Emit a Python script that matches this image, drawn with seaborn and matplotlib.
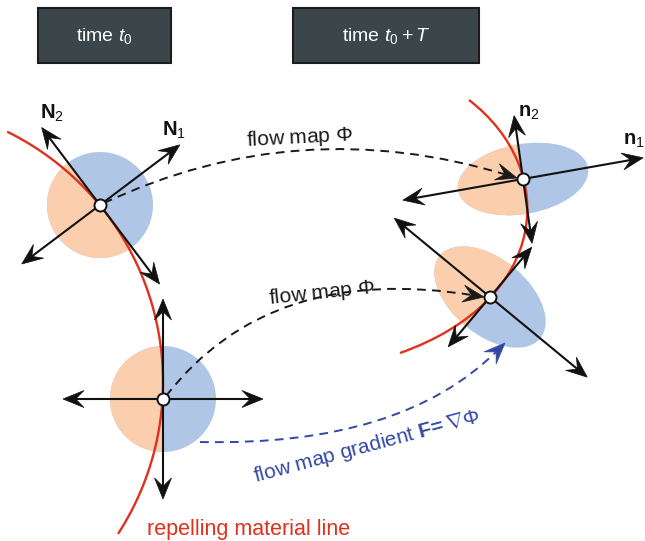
import numpy as np
import seaborn as sns
import matplotlib
matplotlib.use("Agg")
import matplotlib.pyplot as plt
from matplotlib.patches import Rectangle, Ellipse, Polygon, PathPatch
from matplotlib.path import Path

sns.set_theme(style="white")
plt.rcParams["font.family"] = ["Liberation Sans", "DejaVu Sans"]
plt.rcParams["mathtext.fontset"] = "custom"
plt.rcParams["mathtext.rm"] = "Liberation Sans"
plt.rcParams["mathtext.it"] = "Liberation Sans:italic"
plt.rcParams["mathtext.bf"] = "Liberation Sans:bold"

# Kopfzeilen
header_text = [r"time $t_0$", r"time $t_0 + T$"]
header_x = [38, 293]
header_w = [133, 186]

# die vier materiellen Punkte (Pixel, y nach unten)
point_x = [100, 163, 523, 490]
point_y = [205, 399, 179, 297]
# Halbachsen und Drehung der Flecken (Grad, gegen Uhrzeigersinn)
blob_a = [53, 53, 66, 65]
blob_b = [53, 53, 35, 38]
blob_rot = [0, 0, 10, -39.5]
# Trennlinie und Seite des orangen Teils
split_angle = [127, 90, 98, 50]
orange_side = [217, 180, 188, 140]
# Pfeile pro Punkt: Winkel und Länge
arrow_angles = [[37, 217, 127, 307], [0, 180, 90, 270], [10, 190, 98, 278], [140.5, -39.5, 50, 230]]
arrow_lengths = [[100, 98, 97, 99], [100, 100, 100, 100], [122, 122, 64, 65], [124, 126, 65, 65]]

# Beschriftungen der Normalen
normal_labels = [r"$\mathbf{N}_2$", r"$\mathbf{N}_1$", r"$\mathbf{n}_2$", r"$\mathbf{n}_1$"]
normal_x = [52, 174, 529, 634]
normal_y = [113, 130, 113, 141]

# abstoßende Materiallinien
left_arc_center = (-116, 382)
left_arc_r = 279
left_arc_deg = [-63.6, 32.8]
right_curve = [(469, 100), (560, 170), (550, 300), (400, 353)]

# gestrichelte Flusspfeile: Start, Kontrollpunkt, Ende
flow_curves = [[(104, 203), (304, 113), (517, 178)],
               [(166, 396), (275, 263), (484, 297)],
               [(200, 442), (405, 443), (505, 343)]]
flow_colors = ["#1a1a1a", "#1a1a1a", "#3348a3"]
flow_labels = [r"flow map $\Phi$", r"flow map $\Phi$", r"flow map gradient $\mathbf{F\!=}\nabla\Phi$"]
label_x = [300, 322, 367]
label_y = [138, 293, 447]
label_rot = [3, 6, 15]

orange = "#fbcfad"
blue = "#afc6e7"
red = "#e0301e"

fig = plt.figure(figsize=(6.45, 5.41), dpi=100)
ax = fig.add_axes([0, 0, 1, 1])
ax.set_xlim(0, 645)
ax.set_ylim(541, 0)
ax.axis("off")


def head(ax, tip, u, color, hl=21, hw=8.5):
    # Pfeilspitze mit eingezogenem Ende
    n = np.array([-u[1], u[0]])
    back = tip - u * hl
    poly = [tip, back + n * hw, tip - u * hl * 0.6, back - n * hw]
    ax.add_patch(Polygon(poly, closed=True, fc=color, ec=color, lw=0.5, zorder=6))


def arrow(ax, x0, y0, ang, length, color="#111111"):
    u = np.array([np.cos(np.radians(ang)), -np.sin(np.radians(ang))])
    p0 = np.array([x0, y0], dtype=float)
    tip = p0 + u * length
    ax.plot([p0[0], tip[0] - u[0] * 10], [p0[1], tip[1] - u[1] * 10], color=color, lw=1.5, zorder=5)
    head(ax, tip, u, color)


# Kopfkästen
for txt, x, w in zip(header_text, header_x, header_w):
    ax.add_patch(Rectangle((x, 8), w, 55, fc="#3a4649", ec="#1c1c1c", lw=1.5, zorder=2))
    ax.text(x + w / 2, 36, txt, color="white", fontsize=14, ha="center", va="center", zorder=3)

# Flecken
for i in range(4):
    cx, cy = point_x[i], point_y[i]
    e1 = Ellipse((cx, cy), 2 * blob_a[i], 2 * blob_b[i], angle=-blob_rot[i], fc=blue, ec="none", zorder=1)
    ax.add_patch(e1)
    e2 = Ellipse((cx, cy), 2 * blob_a[i], 2 * blob_b[i], angle=-blob_rot[i], fc=orange, ec="none", zorder=1.5)
    ax.add_patch(e2)
    s = np.radians(split_angle[i])
    o = np.radians(orange_side[i])
    u = np.array([np.cos(s), -np.sin(s)])
    nv = np.array([np.cos(o), -np.sin(o)])
    c = np.array([cx, cy], dtype=float)
    half = Polygon([c + u * 200, c - u * 200, c - u * 200 + nv * 200, c + u * 200 + nv * 200],
                   closed=True, transform=ax.transData, fc="none", ec="none")
    e2.set_clip_path(half)

# rote Linien
phi = np.radians(np.linspace(left_arc_deg[0], left_arc_deg[1], 200))
ax.plot(left_arc_center[0] + left_arc_r * np.cos(phi), left_arc_center[1] + left_arc_r * np.sin(phi),
        color=red, lw=1.7, zorder=3)
ax.add_patch(PathPatch(Path(right_curve, [Path.MOVETO, Path.CURVE4, Path.CURVE4, Path.CURVE4]),
                       fc="none", ec=red, lw=1.7, zorder=3))

# Pfeile an den Punkten
for i in range(4):
    for ang, ln in zip(arrow_angles[i], arrow_lengths[i]):
        arrow(ax, point_x[i], point_y[i], ang, ln)

# gestrichelte Flusspfeile
for crv, col in zip(flow_curves, flow_colors):
    p0, p1, p2 = [np.array(p, dtype=float) for p in crv]
    u = (p2 - p1) / np.linalg.norm(p2 - p1)
    end = p2 - u * 10
    ax.add_patch(PathPatch(Path([p0, p1 - u * 5, end], [Path.MOVETO, Path.CURVE3, Path.CURVE3]),
                           fc="none", ec=col, lw=1.4, ls=(0, (4.5, 3.2)), zorder=4))
    head(ax, p2, u, col)

for txt, x, y, r, col, fs in zip(flow_labels, label_x, label_y, label_rot, flow_colors, [15, 15, 15]):
    ax.text(x, y, txt, fontsize=fs, color=col, rotation=r, ha="center", va="center",
            rotation_mode="anchor", zorder=7)

for txt, x, y in zip(normal_labels, normal_x, normal_y):
    ax.text(x, y, txt, fontsize=14.5, color="#111111", ha="center", va="center", zorder=7)

ax.text(249, 530, "repelling material line", fontsize=15.5, color=red, ha="center", va="center")

# weiße Punkte
ax.scatter(point_x, point_y, s=75, c="white", edgecolors="#111111", linewidths=1.4, zorder=8)

fig.savefig("out.png", dpi=100)
